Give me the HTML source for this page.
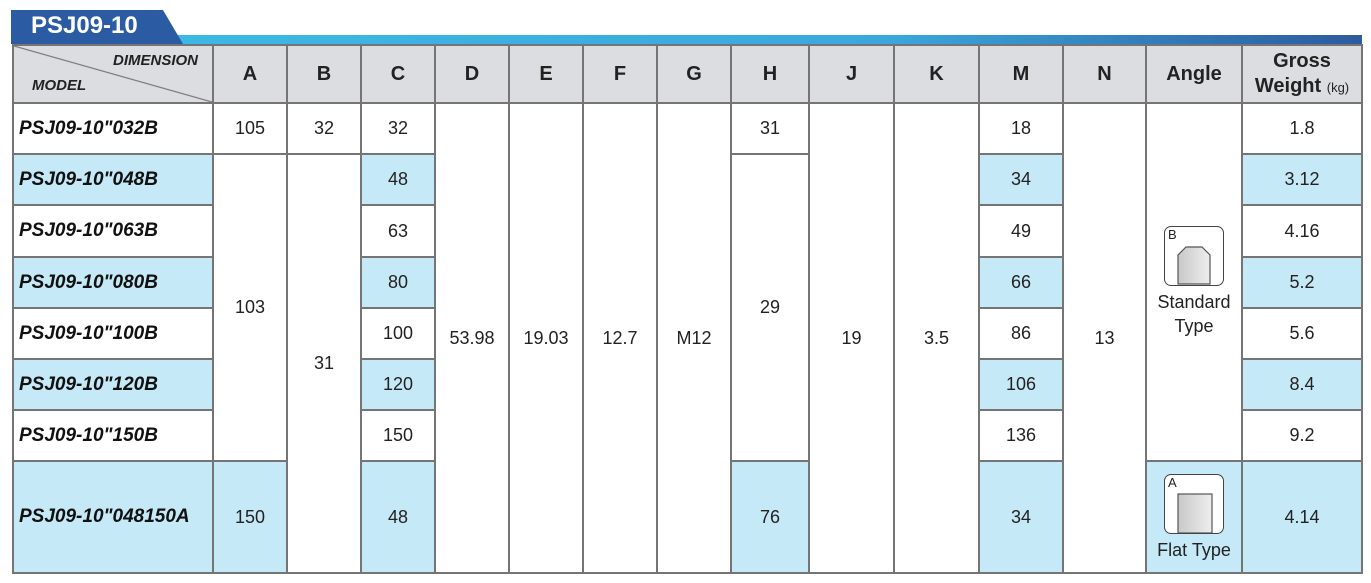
<!DOCTYPE html>
<html><head><meta charset="utf-8"><style>
body{margin:0;width:1371px;height:583px;background:#fff;position:relative;overflow:hidden;font-family:"Liberation Sans",Arial,sans-serif;color:#222}
.tab{position:absolute;left:11px;top:10px;width:172px;height:34px;background:#2b5ba3;clip-path:polygon(0 0,152px 0,172px 34px,0 34px)}
.tab span{position:absolute;left:20px;top:2px;color:#fff;font-weight:bold;font-size:24px;letter-spacing:0}
.bar{position:absolute;left:170px;top:35px;width:1192px;height:9px;background:linear-gradient(90deg,#3cb8e6 0%,#3aa8dd 60%,#2c5b9e 100%)}
table{position:absolute;left:12px;top:44px;border-collapse:collapse;table-layout:fixed}
td{border:2px solid #757575;text-align:center;font-size:18px;padding:0;background:#fff}
tr.h td{background:#dcdde0;font-weight:bold;font-size:20px;height:56px}
td.m{text-align:left;padding-left:5px;font-weight:bold;font-style:italic;font-size:19px;color:#111}
.b{background:#c6e9f8}
.diag{position:relative;background:#dcdde0 linear-gradient(to top right,transparent calc(50% - 1px),#666 50%,transparent calc(50% + 1px)) !important}
.diag .d1{position:absolute;right:14px;top:6px;font-size:15px;font-style:italic}
.diag .d2{position:absolute;left:18px;bottom:8px;font-size:15px;font-style:italic}
.icon{width:58px;height:58px;border:1.5px solid #444;border-radius:7px;margin:0 auto;position:relative;background:#fff}
.icon i{position:absolute;left:3px;top:0;font-style:normal;font-size:13px}
</style></head><body>
<div class="bar"></div>
<div class="tab"><span>PSJ09-10</span></div>
<table>
<colgroup><col style="width:200px"><col style="width:74px"><col style="width:74px"><col style="width:74px"><col style="width:74px"><col style="width:74px"><col style="width:74px"><col style="width:74px"><col style="width:78px"><col style="width:85px"><col style="width:85px"><col style="width:84px"><col style="width:83px"><col style="width:96px"><col style="width:120px"></colgroup>
<tr class="h"><td class="diag"><span class="d1">DIMENSION</span><span class="d2">MODEL</span></td><td>A</td><td>B</td><td>C</td><td>D</td><td>E</td><td>F</td><td>G</td><td>H</td><td>J</td><td>K</td><td>M</td><td>N</td><td>Angle</td><td style="line-height:25px">Gross<br>Weight <span style="font-weight:normal;font-size:13px">(kg)</span></td></tr>
<tr style="height:51px"><td class="m">PSJ09-10"032B</td><td>105</td><td>32</td><td>32</td><td rowspan="8">53.98</td><td rowspan="8">19.03</td><td rowspan="8">12.7</td><td rowspan="8">M12</td><td>31</td><td rowspan="8">19</td><td rowspan="8">3.5</td><td>18</td><td rowspan="8">13</td>
<td rowspan="7"><div class="icon"><i>B</i><svg width="58" height="58" style="position:absolute;left:0;top:0"><defs><linearGradient id="g" x1="0" x2="1"><stop offset="0" stop-color="#c8c8c8"/><stop offset="1" stop-color="#eee"/></linearGradient></defs><path d="M13 57 V28 L21 20 H37 L45 28 V57 Z" fill="url(#g)" stroke="#555" stroke-width="1.2"/></svg></div><div style="margin-top:4px;line-height:24px">Standard<br>Type</div></td><td>1.8</td></tr>
<tr style="height:51px"><td class="m b">PSJ09-10"048B</td><td rowspan="6">103</td><td rowspan="7">31</td><td class="b">48</td><td rowspan="6">29</td><td class="b">34</td><td class="b">3.12</td></tr>
<tr style="height:52px"><td class="m">PSJ09-10"063B</td><td>63</td><td>49</td><td>4.16</td></tr>
<tr style="height:51px"><td class="m b">PSJ09-10"080B</td><td class="b">80</td><td class="b">66</td><td class="b">5.2</td></tr>
<tr style="height:51px"><td class="m">PSJ09-10"100B</td><td>100</td><td>86</td><td>5.6</td></tr>
<tr style="height:51px"><td class="m b">PSJ09-10"120B</td><td class="b">120</td><td class="b">106</td><td class="b">8.4</td></tr>
<tr style="height:51px"><td class="m">PSJ09-10"150B</td><td>150</td><td>136</td><td>9.2</td></tr>
<tr style="height:112px"><td class="m b">PSJ09-10"048150A</td><td class="b">150</td><td class="b">48</td><td class="b">76</td><td class="b">34</td>
<td class="b"><div class="icon"><i>A</i><svg width="58" height="58" style="position:absolute;left:0;top:0"><rect x="13" y="19" width="34" height="39" fill="url(#g)" stroke="#555" stroke-width="1.2"/></svg></div><div style="margin-top:6px">Flat Type</div></td><td class="b">4.14</td></tr>
</table>
</body></html>
